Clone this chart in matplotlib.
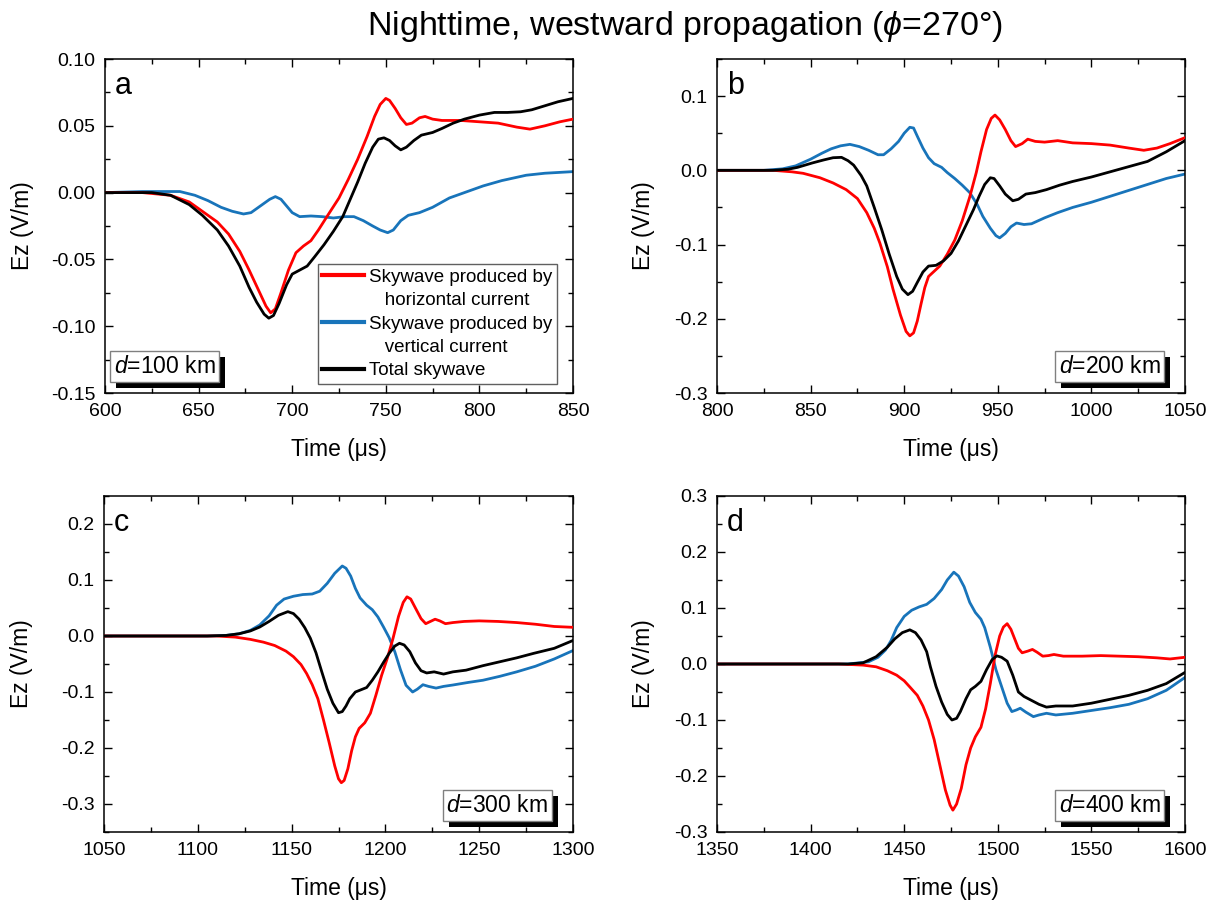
import matplotlib
matplotlib.use("Agg")
import matplotlib.pyplot as plt
import matplotlib.patheffects as pe
from matplotlib.ticker import MultipleLocator, FormatStrFormatter
from matplotlib.lines import Line2D

plt.rcParams['font.family'] = ['Liberation Sans', 'DejaVu Sans']
plt.rcParams['axes.unicode_minus'] = False
plt.rcParams['mathtext.fontset'] = 'custom'
plt.rcParams['mathtext.rm'] = 'Liberation Sans'
plt.rcParams['mathtext.it'] = 'Liberation Sans:italic'

# ---------------- data ----------------
# panel a (d = 100 km)
ta_h = [600, 620, 635, 645, 652, 660, 666, 672, 677, 682, 686, 688.5, 691, 694, 698, 702, 706, 710, 714, 719,
        725, 730, 735, 740, 744, 747, 750, 752, 755, 758, 761, 764, 768, 771, 775, 780, 790, 800, 810, 820,
        827, 835, 843, 850]
va_h = [0, 0, -0.002, -0.007, -0.014, -0.022, -0.031, -0.044, -0.058, -0.073, -0.085, -0.090, -0.087, -0.075,
        -0.058, -0.045, -0.040, -0.036, -0.028, -0.017, -0.004, 0.010, 0.025, 0.042, 0.057, 0.066, 0.0705,
        0.069, 0.063, 0.056, 0.051, 0.052, 0.056, 0.057, 0.055, 0.054, 0.054, 0.053, 0.052, 0.049, 0.0475,
        0.050, 0.053, 0.055]
ta_t = [600, 625, 635, 645, 652, 660, 666, 672, 677, 681, 685, 687.5, 690, 693, 697, 700, 704, 708, 712, 717,
        722, 727, 731, 735, 739, 743, 746, 749, 752, 755, 758, 761, 765, 769, 775, 780, 786, 792, 800, 808,
        815, 822, 828, 835, 842, 850]
va_t = [0, 0, -0.002, -0.009, -0.017, -0.028, -0.040, -0.055, -0.071, -0.082, -0.091, -0.094, -0.092, -0.083,
        -0.069, -0.061, -0.058, -0.055, -0.048, -0.039, -0.029, -0.018, -0.005, 0.008, 0.022, 0.034, 0.040,
        0.041, 0.039, 0.035, 0.032, 0.034, 0.039, 0.043, 0.045, 0.048, 0.052, 0.055, 0.058, 0.060, 0.060,
        0.0605, 0.062, 0.065, 0.068, 0.0705]
ta_v = [600, 620, 640, 648, 655, 662, 668, 674, 678, 683, 688, 691, 694, 697, 700, 704, 710, 716, 722, 728,
        733, 738, 743, 747, 751, 754, 758, 762, 768, 775, 784, 792, 802, 812, 825, 835, 850]
va_v = [0, 0.0008, 0.0008, -0.002, -0.006, -0.011, -0.014, -0.016, -0.015, -0.010, -0.005, -0.003, -0.005,
        -0.010, -0.015, -0.018, -0.0175, -0.018, -0.019, -0.018, -0.018, -0.021, -0.025, -0.028, -0.030,
        -0.028, -0.021, -0.017, -0.015, -0.011, -0.004, 0.000, 0.005, 0.009, 0.013, 0.0145, 0.0157]

# panel b (d = 200 km)
tb_h = [800, 830, 840, 846, 855, 862, 869, 875, 880, 884, 887, 891, 894, 898, 901, 903, 905, 907, 909, 911,
        913, 916, 919, 923, 927, 931, 935, 938.5, 941, 944, 946.5, 948.5, 951, 954, 957, 959.5, 963, 966,
        970, 975, 982, 990, 1000, 1010, 1020, 1028, 1035, 1042, 1050]
vb_h = [0, 0, -0.002, -0.004, -0.010, -0.017, -0.026, -0.038, -0.057, -0.078, -0.098, -0.130, -0.160, -0.195,
        -0.217, -0.223, -0.219, -0.203, -0.180, -0.158, -0.143, -0.136, -0.129, -0.113, -0.094, -0.068,
        -0.036, -0.003, 0.025, 0.055, 0.070, 0.0745, 0.068, 0.055, 0.040, 0.032, 0.036, 0.042, 0.039, 0.038,
        0.040, 0.037, 0.036, 0.034, 0.030, 0.027, 0.030, 0.036, 0.044]
tb_t = [800, 830, 838, 843, 851, 857, 862, 866.5, 870, 873, 877, 880, 884, 888, 892, 896, 899, 902, 904.5, 907,
        910, 913, 917, 921, 925, 929, 933, 937, 940, 943, 946, 948, 951, 954, 958, 961, 965, 970, 976, 983,
        990, 1000, 1010, 1020, 1030, 1040, 1050]
vb_t = [0, 0, 0.0015, 0.004, 0.010, 0.014, 0.017, 0.0175, 0.013, 0.007, -0.007, -0.021, -0.050, -0.080,
        -0.113, -0.143, -0.160, -0.1675, -0.163, -0.151, -0.137, -0.129, -0.128, -0.122, -0.112, -0.095,
        -0.074, -0.053, -0.035, -0.019, -0.010, -0.011, -0.021, -0.032, -0.041, -0.039, -0.032, -0.030,
        -0.026, -0.020, -0.015, -0.009, -0.002, 0.005, 0.012, 0.025, 0.040]
tb_v = [800, 825, 835, 842, 850, 856, 861, 866, 871, 876, 881, 886, 889, 893, 897, 900, 903, 905, 907, 910,
        913, 916, 920, 923, 927, 931, 935, 939, 942, 946, 949, 951, 954, 957, 960, 964, 968, 975, 982, 990,
        1000, 1010, 1020, 1030, 1040, 1050]
vb_v = [0, 0, 0.002, 0.006, 0.015, 0.023, 0.029, 0.033, 0.035, 0.032, 0.027, 0.021, 0.021, 0.029, 0.039,
        0.050, 0.058, 0.057, 0.046, 0.030, 0.017, 0.009, 0.004, -0.003, -0.011, -0.020, -0.030, -0.046,
        -0.062, -0.078, -0.088, -0.091, -0.085, -0.076, -0.071, -0.073, -0.072, -0.064, -0.057, -0.050,
        -0.043, -0.035, -0.027, -0.019, -0.011, -0.005]

# panel c (d = 300 km)
tc_h = [1050, 1110, 1120, 1128, 1135, 1141, 1147, 1151, 1155, 1158, 1161, 1164, 1167, 1170, 1173, 1175,
        1176.5, 1178, 1180, 1182, 1184, 1186, 1189, 1192, 1195, 1198, 1201, 1204, 1207, 1209.5, 1211.5,
        1213.5, 1216, 1219, 1221.5, 1224, 1226.5, 1229, 1232, 1236, 1242, 1250, 1260, 1270, 1280, 1290, 1300]
vc_h = [0, 0, -0.002, -0.006, -0.011, -0.017, -0.027, -0.037, -0.051, -0.067, -0.087, -0.112, -0.150, -0.190,
        -0.232, -0.255, -0.262, -0.258, -0.237, -0.205, -0.180, -0.165, -0.155, -0.138, -0.105, -0.070,
        -0.040, -0.005, 0.035, 0.060, 0.070, 0.066, 0.050, 0.031, 0.022, 0.026, 0.030, 0.027, 0.022, 0.024,
        0.026, 0.027, 0.026, 0.024, 0.021, 0.017, 0.0155]
tc_t = [1050, 1105, 1115, 1122, 1128, 1133, 1138, 1143, 1148, 1151, 1154, 1157, 1160, 1163, 1166, 1169, 1172,
        1175, 1177, 1179, 1181, 1184, 1187, 1190, 1193, 1196, 1199, 1202, 1205, 1207.5, 1210, 1213, 1216,
        1219, 1222, 1226, 1231, 1236, 1243, 1252, 1261, 1270, 1279, 1290, 1300]
vc_t = [0, 0, 0.001, 0.004, 0.009, 0.016, 0.026, 0.037, 0.0435, 0.040, 0.030, 0.015, -0.004, -0.030, -0.063,
        -0.095, -0.120, -0.137, -0.135, -0.125, -0.112, -0.100, -0.096, -0.092, -0.079, -0.064, -0.047,
        -0.031, -0.018, -0.013, -0.016, -0.028, -0.048, -0.062, -0.066, -0.064, -0.068, -0.064, -0.061,
        -0.053, -0.046, -0.039, -0.031, -0.022, -0.008]
tc_v = [1050, 1105, 1115, 1122, 1128, 1133, 1138, 1142, 1146, 1151, 1156, 1161, 1165, 1169, 1173, 1177, 1179,
        1181.5, 1184, 1186.5, 1190, 1193, 1196, 1199, 1202, 1205, 1208, 1211, 1214.5, 1217, 1220, 1223, 1227,
        1231, 1236, 1244, 1252, 1261, 1270, 1280, 1290, 1300]
vc_v = [0, 0, 0.001, 0.004, 0.010, 0.0196, 0.036, 0.055, 0.066, 0.071, 0.074, 0.075, 0.080, 0.094, 0.112,
        0.125, 0.121, 0.107, 0.085, 0.068, 0.055, 0.047, 0.034, 0.016, -0.003, -0.028, -0.060, -0.088, -0.100,
        -0.095, -0.087, -0.090, -0.093, -0.090, -0.0875, -0.083, -0.079, -0.072, -0.064, -0.054, -0.041,
        -0.026]

# panel d (d = 400 km)
td_h = [1350, 1415, 1428, 1435, 1441, 1446, 1450, 1453, 1457, 1460, 1463, 1466, 1469, 1472, 1474.5, 1476,
        1478, 1480.5, 1483, 1485.5, 1488, 1491, 1493.5, 1496, 1498.5, 1501, 1503, 1505, 1507, 1509, 1511, 1513,
        1516, 1518.5, 1521, 1524, 1527, 1530, 1535, 1545, 1555, 1565, 1575, 1585, 1592, 1600]
vd_h = [0, 0, -0.002, -0.005, -0.012, -0.020, -0.030, -0.041, -0.056, -0.075, -0.100, -0.135, -0.180, -0.225,
        -0.252, -0.261, -0.250, -0.222, -0.180, -0.150, -0.130, -0.113, -0.080, -0.035, 0.015, 0.050, 0.066,
        0.072, 0.062, 0.045, 0.028, 0.020, 0.023, 0.026, 0.021, 0.014, 0.015, 0.017, 0.014, 0.014, 0.015,
        0.014, 0.013, 0.011, 0.009, 0.012]
td_t = [1350, 1420, 1428, 1435, 1441, 1445, 1449, 1453, 1456, 1459, 1462, 1464, 1467, 1470, 1473, 1475.5, 1478,
        1480, 1483, 1485.5, 1488, 1491, 1494, 1497, 1499.5, 1502, 1505, 1508, 1511, 1514, 1518, 1522, 1526,
        1531, 1540, 1550, 1560, 1570, 1580, 1590, 1600]
vd_t = [0, 0, 0.002, 0.013, 0.030, 0.045, 0.056, 0.061, 0.056, 0.043, 0.022, -0.005, -0.040, -0.068, -0.090,
        -0.100, -0.097, -0.085, -0.062, -0.046, -0.040, -0.031, -0.010, 0.008, 0.0145, 0.012, 0.005, -0.020,
        -0.050, -0.058, -0.065, -0.072, -0.077, -0.075, -0.075, -0.070, -0.063, -0.056, -0.047, -0.035,
        -0.015]
td_v = [1350, 1420, 1431, 1436, 1440, 1443, 1446, 1450, 1454, 1458, 1462, 1466, 1470, 1473, 1476.5, 1479,
        1482, 1485, 1488, 1491, 1493, 1496, 1499, 1502, 1505, 1507.5, 1510, 1512, 1515, 1519, 1522, 1526,
        1531, 1540, 1550, 1560, 1570, 1580, 1590, 1600]
vd_v = [0, 0, 0.004, 0.012, 0.025, 0.042, 0.065, 0.085, 0.096, 0.102, 0.1065, 0.117, 0.133, 0.150, 0.164,
        0.157, 0.138, 0.110, 0.092, 0.080, 0.065, 0.030, -0.010, -0.040, -0.070, -0.085, -0.082, -0.079,
        -0.086, -0.094, -0.091, -0.088, -0.091, -0.088, -0.083, -0.078, -0.072, -0.062, -0.047, -0.024]

panel_letters = ['a', 'b', 'c', 'd']
distance_labels = ['$\\it{d}$=100 km', '$\\it{d}$=200 km', '$\\it{d}$=300 km', '$\\it{d}$=400 km']
xlims = [(600, 850), (800, 1050), (1050, 1300), (1350, 1600)]
ylims = [(-0.15, 0.10), (-0.3, 0.15), (-0.35, 0.25), (-0.3, 0.3)]
ymajor = [0.05, 0.1, 0.1, 0.1]
yfmt = ['%.2f', '%.1f', '%.1f', '%.1f']
legend_labels = ['Skywave produced by', '   horizontal current', 'Skywave produced by',
                 '   vertical current', 'Total skywave']
title_text = 'Nighttime, westward propagation ($\\it{\\phi}$=270°)'

RED = '#FF0000'
BLUE = '#1874BA'
BLACK = '#000000'

# ---------------- figure ----------------
W, H = 1215, 902
fig = plt.figure(figsize=(W / 100, H / 100), dpi=100)

def rect(l, t, r, b):
    return [l / W, 1 - b / H, (r - l) / W, (b - t) / H]

rects = [rect(105, 59, 573, 393), rect(717, 59, 1185, 393),
         rect(104, 496, 573, 832), rect(717, 496, 1185, 832)]

data = [
    (ta_h, va_h, ta_v, va_v, ta_t, va_t),
    (tb_h, vb_h, tb_v, vb_v, tb_t, vb_t),
    (tc_h, vc_h, tc_v, vc_v, tc_t, vc_t),
    (td_h, vd_h, td_v, vd_v, td_t, vd_t),
]

lw = 2.0
for i in range(4):
    ax = fig.add_axes(rects[i])
    th, vh, tv, vv, tt, vt = data[i]
    ax.plot(tv, vv, color=BLUE, lw=lw, zorder=2)
    ax.plot(th, vh, color=RED, lw=lw, zorder=3)
    ax.plot(tt, vt, color=BLACK, lw=lw, zorder=4)
    ax.set_xlim(*xlims[i])
    ax.set_ylim(*ylims[i])
    ax.xaxis.set_major_locator(MultipleLocator(50))
    ax.xaxis.set_minor_locator(MultipleLocator(25))
    ax.yaxis.set_major_locator(MultipleLocator(ymajor[i]))
    ax.yaxis.set_minor_locator(MultipleLocator(ymajor[i] / 2))
    ax.yaxis.set_major_formatter(FormatStrFormatter(yfmt[i]))
    ax.tick_params(which='both', direction='in', top=True, right=True, labelsize=14, width=1.0)
    ax.tick_params(which='major', length=5.5)
    ax.tick_params(which='minor', length=3.5)
    ax.tick_params(axis='y', pad=7)
    ax.tick_params(axis='x', pad=7.5)
    for s in ax.spines.values():
        s.set_linewidth(1.1)
    ax.set_xlabel('Time (\u03bcs)', fontsize=16.5)
    ax.set_ylabel('Ez (V/m)', fontsize=16.5)
    ax.xaxis.set_label_coords(0.5, -0.135)
    ax.yaxis.set_label_coords(-0.152 if i in (0, 2) else -0.132, 0.5)
    ax.text(0.021, 0.895, panel_letters[i], transform=ax.transAxes, fontsize=22,
            ha='left', va='baseline')
    if i == 0:
        tx, ha = 0.019, 'left'
    else:
        tx, ha = 0.947, 'right'
    t = ax.text(tx, 0.045, distance_labels[i], transform=ax.transAxes, fontsize=16.5,
                ha=ha, va='bottom', zorder=10,
                bbox=dict(boxstyle='square,pad=0.16', fc='white', ec='#808080', lw=1.0))
    t.get_bbox_patch().set_path_effects([
        pe.SimplePatchShadow(offset=(4.3, -4.3), shadow_rgbFace='black', alpha=1.0),
        pe.Normal()])
    if i == 0:
        handles = [Line2D([], [], color=RED, lw=3),
                   Line2D([], [], color='none', lw=3),
                   Line2D([], [], color=BLUE, lw=3),
                   Line2D([], [], color='none', lw=3),
                   Line2D([], [], color=BLACK, lw=3)]
        leg = ax.legend(handles, legend_labels, loc='lower right',
                        bbox_to_anchor=(0.966, 0.027), fontsize=13.5,
                        handlelength=2.25, handletextpad=0.25, labelspacing=0.33,
                        borderpad=0.25, borderaxespad=0.0, fancybox=False,
                        frameon=True, framealpha=1.0, edgecolor='#606060')
        leg.get_frame().set_linewidth(1.0)
        leg.set_zorder(9)

fig.text(685 / W, 1 - 26 / H, title_text, fontsize=24.5, ha='center', va='center')

fig.savefig('out.png', dpi=100)
